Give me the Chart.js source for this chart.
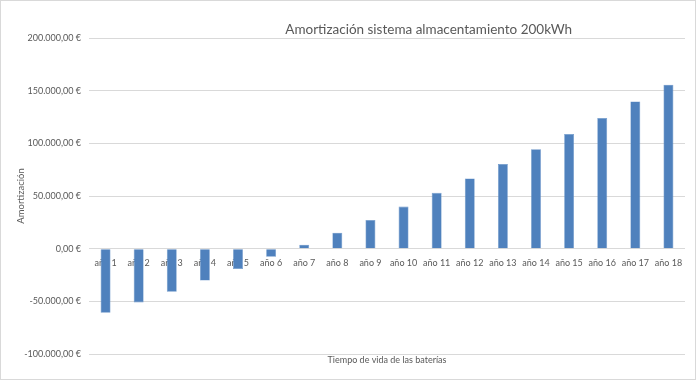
<!DOCTYPE html>
<html>
<head>
<meta charset="utf-8">
<script src="https://cdn.jsdelivr.net/npm/chart.js@4/dist/chart.umd.min.js"></script>
<style>
  body { margin: 0; background: #fff; }
  #wrap { width: 694px; height: 378px; border: 1px solid #d9d9d9; }
</style>
</head>
<body>
<div id="wrap"><canvas id="myChart" width="694" height="378"></canvas></div>
<script>
const years = ["año 1", "año 2", "año 3", "año 4", "año 5", "año 6", "año 7", "año 8", "año 9",
  "año 10", "año 11", "año 12", "año 13", "año 14", "año 15", "año 16", "año 17", "año 18"];
const amortizacion = [-60800, -51000, -40800, -30300, -19400, -7600, 3800, 15200, 27300,
  40000, 53000, 66700, 80300, 94300, 108900, 124100, 139700, 155600];
const chartTitle = "Amortización sistema almacentamiento 200kWh";
const xTitle = "Tiempo de vida de las baterías";
const yTitle = "Amortización";

const fontFam = "Lato, 'Liberation Sans', sans-serif";
const grey = "#595959";

// 200000 -> "200.000,00 €"
const euro = (v) => {
  let neg = v < 0;
  let s = Math.abs(v).toFixed(0).replace(/\B(?=(\d{3})+(?!\d))/g, ".");
  return (neg ? "-" : "") + s + ",00 €";
};

// Excel-like titles (chart title and horizontal axis title)
const titles = {
  id: "titles",
  afterDraw(chart) {
    const ctx = chart.ctx;
    const a = chart.chartArea;
    ctx.save();
    ctx.fillStyle = grey;
    ctx.textAlign = "center";
    ctx.textBaseline = "middle";
    ctx.font = "13.5px " + fontFam;
    ctx.fillText(chartTitle, a.left + (a.right - a.left) * 0.57, 28.5);
    ctx.font = "9px " + fontFam;
    ctx.fillText(xTitle, (a.left + a.right) / 2, 359);
    ctx.restore();
  }
};

let ctx = document.getElementById("myChart").getContext("2d");
let chart = new Chart(ctx, {
  type: "bar",
  data: {
    labels: years,
    datasets: [
      {
        label: "Amortización",
        data: amortizacion,
        backgroundColor: "#4f81bd",
        borderColor: "#6a95c9",
        borderWidth: 0.6,
        barPercentage: 0.3,
        categoryPercentage: 1,
      },
    ],
  },
  options: {
    responsive: false,
    animation: false,
    layout: { padding: { top: 37, right: 10, bottom: 25, left: 0 } },
    plugins: {
      legend: { display: false },
      tooltip: { enabled: false },
    },
    scales: {
      x: {
        position: { y: 0 },
        grid: { display: false },
        border: { display: false },
        ticks: {
          color: grey,
          font: { family: fontFam, size: 9 },
          maxRotation: 0,
          padding: 1,
        },
      },
      y: {
        min: -100000,
        max: 200000,
        grid: { color: "#d9d9d9", drawTicks: false },
        border: { display: false },
        ticks: {
          stepSize: 50000,
          color: grey,
          font: { family: fontFam, size: 9 },
          padding: 8,
          callback: (v) => euro(v),
        },
        title: {
          display: true,
          text: yTitle,
          color: grey,
          font: { family: fontFam, size: 9.5 },
          padding: { top: 14, bottom: 0 },
        },
        afterFit: (scale) => { scale.width = 88; },
      },
    },
  },
  plugins: [titles],
});
</script>
</body>
</html>
